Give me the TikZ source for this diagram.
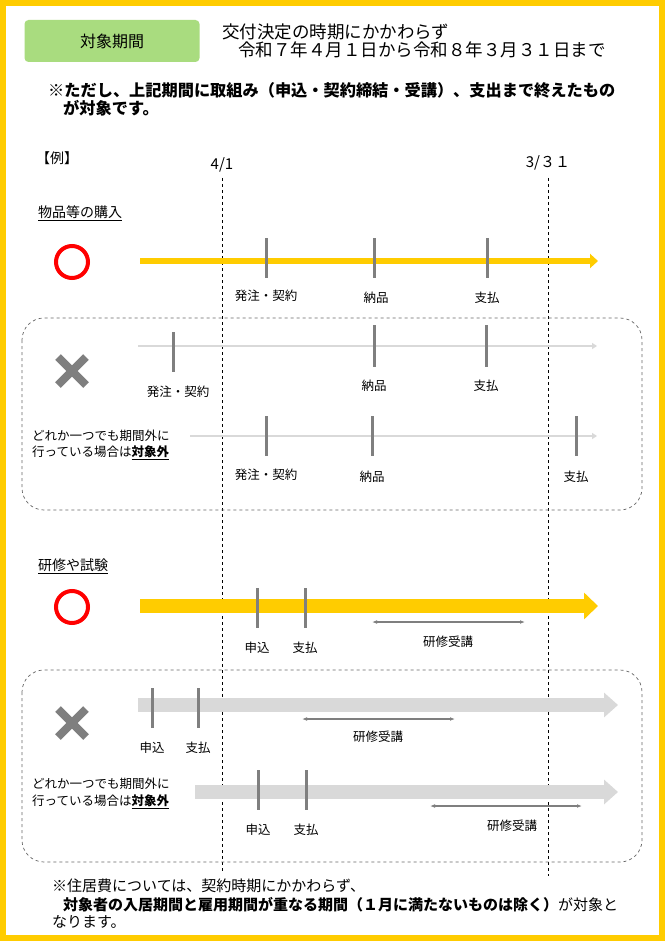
\documentclass[tikz,border=0pt]{standalone}
\usepackage{fontspec}
\setmainfont{Noto Sans CJK JP}
\usetikzlibrary{arrows.meta}
\definecolor{ylw}{HTML}{FFCC00}
\definecolor{grn}{HTML}{A9DC7F}
\definecolor{tick}{HTML}{7F7F7F}
\definecolor{lg}{HTML}{D9D9D9}
\tikzset{
 lbl/.style={font=\fontsize{12.5}{14}\selectfont,inner sep=0},
 txt/.style={font=\fontsize{14}{16}\selectfont,inner sep=0,anchor=west},
 ft/.style={txt,font=\fontsize{15}{17}\selectfont},
 sm/.style={txt,font=\fontsize{12.5}{14}\selectfont},
 tk/.style={tick,line width=3pt},
 ok/.style={red,line width=4pt},
 ng/.style={tick,line width=8pt},
 grp/.style={draw=black!60,dashed,rounded corners=22pt,line width=0.7pt},
 vd/.style={dashed,black,thin},
 dbl/.style={{Latex[length=5pt]}-{Latex[length=5pt]},tick,line width=1.2pt}
}
\begin{document}
\begin{tikzpicture}[x=1pt,y=-1pt]
\useasboundingbox (0,0) rectangle (665,941);
\fill[white] (0,0) rectangle (665,941);
\draw[ylw,line width=6pt] (3,3) rectangle (662,938);
\node[fill=grn,rounded corners=4pt,minimum width=175pt,minimum height=42pt,font=\fontsize{16}{18}\selectfont] (ttl) at (112,41) {対象期間};
\node[txt,font=\fontsize{17.5}{19}\selectfont] (h1) at (222,32) {交付決定の時期にかかわらず};
\node[txt,font=\fontsize{17.5}{19}\selectfont] (h2) at (238,50) {令和７年４月１日から令和８年３月３１日まで};
\node[txt,font=\fontsize{16.2}{18}\selectfont\bfseries] (n1) at (48,90) {※ただし、上記期間に取組み（申込・契約締結・受講）、支出まで終えたもの};
\node[txt,font=\fontsize{16.2}{18}\selectfont\bfseries] (n2) at (63,108) {が対象です。};
\node[txt] (ex) at (36,158) {【例】};
\node[lbl,font=\fontsize{15}{17}\selectfont] (d1) at (222,165) {4/1};
\node[lbl,font=\fontsize{15}{17}\selectfont] (d2) at (548,163) {3/３１};
\coordinate (a1) at (222,178); \coordinate (a2) at (222,872);
\coordinate (b1) at (548,178); \coordinate (b2) at (548,876);
\draw[vd] (a1)--(a2); \draw[vd] (b1)--(b2);
% section 1
\node[txt] (s1) at (38,213) {\underline{物品等の購入}};
\draw[ok] (72,262) circle (16);
\coordinate (p1) at (140,261); \coordinate (p2) at (598,261);
\draw[ylw,line width=6pt,-{Triangle[length=8pt,width=14pt]}] (p1)--(p2);
\foreach \x in {266,374,487} \draw[tk] (\x,238)--(\x,278);
\node[lbl] at (266,296) {発注・契約};
\node[lbl] at (376,298) {納品};
\node[lbl] at (487,298) {支払};
\draw[grp] (22,318) rectangle (642,510);
\draw[ng] (58,357)--(86,385) (86,357)--(58,385);
\coordinate (q1) at (138,346); \coordinate (q2) at (597,346);
\draw[lg,line width=2pt,-{Triangle[length=5pt,width=6pt]}] (q1)--(q2);
\draw[tk] (173,332)--(173,372);
\draw[tk] (374,325)--(374,367);
\draw[tk] (486,325)--(486,367);
\node[lbl] at (178,392) {発注・契約};
\node[lbl] at (374,386) {納品};
\node[lbl] at (486,386) {支払};
\node[sm] at (32,436) {どれか一つでも期間外に};
\node[sm] at (32,453) {行っている場合は\textbf{\underline{対象外}}};
\coordinate (r1) at (190,436); \coordinate (r2) at (597,436);
\draw[lg,line width=2pt,-{Triangle[length=5pt,width=6pt]}] (r1)--(r2);
\foreach \x in {266,372,576} \draw[tk] (\x,416)--(\x,456);
\node[lbl] at (266,475) {発注・契約};
\node[lbl] at (372,477) {納品};
\node[lbl] at (576,477) {支払};
% section 2
\node[txt] (s2) at (38,566) {\underline{研修や試験}};
\draw[ok] (72,607) circle (16);
\coordinate (u1) at (140,606); \coordinate (u2) at (598,606);
\draw[ylw,line width=14pt,-{Triangle[length=14pt,width=26pt]}] (u1)--(u2);
\foreach \x in {257,305} \draw[tk] (\x,588)--(\x,628);
\node[lbl] at (257,648) {申込};
\node[lbl] at (305,648) {支払};
\coordinate (k1) at (372,622); \coordinate (k2) at (525,622);
\draw[dbl] (k1)--(k2);
\node[lbl] at (448,642) {研修受講};
\draw[grp] (22,670) rectangle (642,862);
\draw[ng] (58,709)--(86,737) (86,709)--(58,737);
\coordinate (v1) at (138,705); \coordinate (v2) at (618,705);
\draw[lg,line width=14pt,-{Triangle[length=14pt,width=24pt]}] (v1)--(v2);
\foreach \x in {152,198} \draw[tk] (\x,688)--(\x,728);
\node[lbl] at (152,748) {申込};
\node[lbl] at (198,748) {支払};
\coordinate (m1) at (302,719); \coordinate (m2) at (455,719);
\draw[dbl] (m1)--(m2);
\node[lbl] at (378,737) {研修受講};
\node[sm] at (32,784) {どれか一つでも期間外に};
\node[sm] at (32,802) {行っている場合は\textbf{\underline{対象外}}};
\coordinate (w1) at (195,792); \coordinate (w2) at (618,792);
\draw[lg,line width=14pt,-{Triangle[length=14pt,width=24pt]}] (w1)--(w2);
\foreach \x in {258,306} \draw[tk] (\x,770)--(\x,810);
\node[lbl] at (258,830) {申込};
\node[lbl] at (306,830) {支払};
\coordinate (o1) at (430,806); \coordinate (o2) at (582,806);
\draw[dbl] (o1)--(o2);
\node[lbl] at (512,826) {研修受講};
% footnote
\node[ft] at (52,886) {※住居費については、契約時期にかかわらず、};
\node[ft] at (63,905) {\textbf{対象者の入居期間と雇用期間が重なる期間（１月に満たないものは除く）}が対象と};
\node[ft] at (52,922) {なります。};
\end{tikzpicture}
\end{document}
